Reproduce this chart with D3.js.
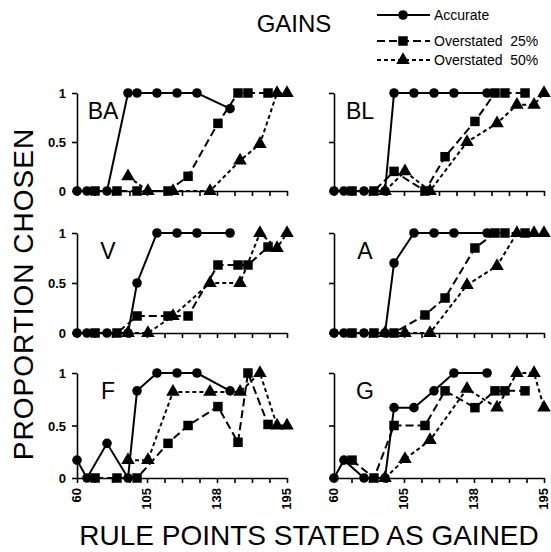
<!DOCTYPE html>
<html>
<head>
<meta charset="UTF-8">
<style>
  body { margin: 0; background: #fff; }
  svg { font-family: "Liberation Sans", Arial, sans-serif; }
  .axis path, .axis line { stroke: #000; stroke-width: 1.6; }
</style>
</head>
<body>
<svg></svg>
<script src="https://d3js.org/d3.v7.min.js"></script>
<script>
let width = 551, height = 552;

// stimulus values (rule points stated as gained) for each series
var accurateX = [60, 66.4, 79.3, 92.8, 98.6, 111.4, 124.3, 137.1, 158.4];
var over25X = [71.6, 85.7, 98.6, 118.5, 131.4, 150.6, 163.5, 169.9, 182.8];
var over50X = [92.8, 105.6, 121.7, 145.5, 164.8, 177.6, 188.6, 195];

// proportion chosen, per subject
var BA_acc = [0, 0, 0, 1, 1, 1, 1, 1, 0.84];
var BA_25 = [0, 0, 0, 0, 0.15, 0.69, 1, 1, 1];
var BA_50 = [0.15, 0, 0, 0, 0.31, 0.48, 1, 1];
var BL_acc = [0, 0, 0, 0, 1, 1, 1, 1, 1];
var BL_25 = [0, 0, 0.2, 0, 0.35, 0.71, 1, 1, 1];
var BL_50 = [0, 0.2, 0, 0.5, 0.69, 0.88, 0.88, 1];
var V_acc = [0, 0, 0, 0, 0.5, 1, 1, 1, 1];
var V_25 = [0, 0, 0.17, 0.17, 0.17, 0.68, 0.68, 0.68, 0.86];
var V_50 = [0, 0, 0.17, 0.5, 0.5, 1, 0.85, 1];
var A_acc = [0, 0, 0, 0, 0.7, 1, 1, 1, 1];
var A_25 = [0, 0, 0, 0.18, 0.35, 0.85, 1, 1, 1];
var A_50 = [0, 0, 0, 0.48, 0.67, 1, 1, 1];
var F_acc = [0.17, 0, 0.33, 0, 0.83, 1, 1, 1, 0.83];
var F_25 = [0, 0, 0, 0.33, 0.5, 0.68, 0.34, 1, 0.51];
var F_50 = [0.17, 0.17, 0.82, 0.82, 0.82, 1, 0.5, 0.5];
var G_acc = [0, 0.17, 0, 0, 0.67, 0.67, 0.83, 1, 1];
var G_25 = [0.17, 0, 0.5, 0.5, 0.83, 0.67, 0.83, 0.83, 0.83];
var G_50 = [0, 0.18, 0.36, 0.85, 0.67, 1, 1, 0.67];

var panelNames = ["BA", "BL", "V", "A", "F", "G"];
var panelData = [
  [BA_acc, BA_25, BA_50], [BL_acc, BL_25, BL_50],
  [V_acc, V_25, V_50], [A_acc, A_25, A_50],
  [F_acc, F_25, F_50], [G_acc, G_25, G_50]
];

var seriesNames = ["Accurate", "Overstated  25%", "Overstated  50%"];
var seriesX = [accurateX, over25X, over50X];

var xMinorTicks = d3.range(13).map(i => 60 + i * 11.25);
var xLabelTicks = [60, 105, 150, 195];
var xTickLabels = ["60", "105", "138", "195"];
var yTicks = [0, 0.5, 1];
var yTickLabels = ["0", "0.5", "1"];

var dashes = [null, "8,4", "4,3"];
var symbols = [d3.symbolCircle, d3.symbolSquare, d3.symbolTriangle];
var symbolSizes = [72, 90, 80];

var svg = d3.select("svg").attr("width", width).attr("height", height);

var colX = [77, 334], panelW = 210;
var rows = [[93, 191], [233, 333], [373, 478]];

panelNames.forEach(function(name, p) {
  var col = p % 2, row = Math.floor(p / 2);
  var x = d3.scaleLinear().domain([60, 195]).range([colX[col], colX[col] + panelW]);
  var y = d3.scaleLinear().domain([0, 1]).range([rows[row][1], rows[row][0]]);
  var g = svg.append("g");

  // x axis
  g.append("g").attr("class", "axis")
    .attr("transform", "translate(0," + y(0) + ")")
    .call(d3.axisBottom(x).tickValues(xMinorTicks).tickSize(5).tickSizeOuter(0).tickFormat(""));
  // y axis
  g.append("g").attr("class", "axis")
    .attr("transform", "translate(" + x(60) + ",0)")
    .call(d3.axisLeft(y).tickValues(yTicks).tickSize(5).tickSizeOuter(0).tickFormat(""));

  if (col == 0) {
    g.selectAll(".ylab").data(yTicks).enter().append("text")
      .attr("x", x(60) - 11).attr("y", d => y(d) + 5)
      .attr("text-anchor", "end")
      .style("font-size", "13px").style("font-weight", "bold")
      .text((d, i) => yTickLabels[i]);
  }
  if (row == 2) {
    g.selectAll(".xlab").data(xLabelTicks).enter().append("text")
      .attr("transform", d => "translate(" + (x(d) + 4) + "," + (y(0) + 10) + ") rotate(-90)")
      .attr("text-anchor", "end")
      .style("font-size", "13px").style("font-weight", "bold")
      .text((d, i) => xTickLabels[i]);
  }

  g.append("text").attr("x", x(60) + (name.length > 1 ? 26 : 31)).attr("y", y(1) + 26)
    .attr("text-anchor", "middle").style("font-size", "23px").text(name);

  var line = d3.line().x(d => x(d[0])).y(d => y(d[1]));
  panelData[p].forEach(function(vals, s) {
    var pts = vals.map((v, i) => [seriesX[s][i], v]);
    g.append("path").datum(pts)
      .attr("d", line).attr("fill", "none").attr("stroke", "#000")
      .attr("stroke-width", 2).attr("stroke-dasharray", dashes[s]);
    g.selectAll(".m" + s).data(pts).enter().append("path")
      .attr("d", d3.symbol().type(symbols[s]).size(symbolSizes[s]))
      .attr("transform", d => "translate(" + x(d[0]) + "," + y(d[1]) + ")")
      .attr("fill", "#000");
  });
});

// title and legend
svg.append("text").attr("x", 294).attr("y", 32).attr("text-anchor", "middle")
  .style("font-size", "24px").text("GAINS");

var legendY = [15, 41, 60];
seriesNames.forEach(function(n, s) {
  var lg = svg.append("g").attr("transform", "translate(0," + legendY[s] + ")");
  lg.append("line").attr("x1", 377).attr("x2", 430).attr("y1", 0).attr("y2", 0)
    .attr("stroke", "#000").attr("stroke-width", 2).attr("stroke-dasharray", dashes[s]);
  lg.append("path").attr("d", d3.symbol().type(symbols[s]).size(symbolSizes[s]))
    .attr("transform", "translate(403,0)");
  lg.append("text").attr("x", 434).attr("y", 5)
    .style("font-size", "14px").style("white-space", "pre").text(n);
});

svg.append("text")
  .attr("transform", "translate(33,294) rotate(-90)")
  .attr("text-anchor", "middle").style("font-size", "28px")
  .style("letter-spacing", "1px")
  .text("PROPORTION CHOSEN");

svg.append("text").attr("x", 309).attr("y", 545)
  .attr("text-anchor", "middle").style("font-size", "28px")
  .text("RULE POINTS STATED AS GAINED");
</script>
</body>
</html>
